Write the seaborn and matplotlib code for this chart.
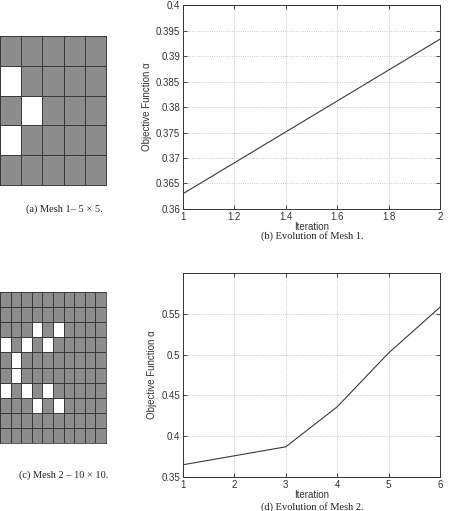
import matplotlib
matplotlib.use("Agg")
import matplotlib.pyplot as plt
import seaborn as sns
import numpy as np
import pandas as pd
from matplotlib.colors import ListedColormap

# mesh 1 (5 x 5): 1 = material (gray), 0 = void (white)
mesh1 = [
    [1, 1, 1, 1, 1],
    [0, 1, 1, 1, 1],
    [1, 0, 1, 1, 1],
    [0, 1, 1, 1, 1],
    [1, 1, 1, 1, 1],
]
# mesh 2 (10 x 10)
mesh2 = [
    [1, 1, 1, 1, 1, 1, 1, 1, 1, 1],
    [1, 1, 1, 1, 1, 1, 1, 1, 1, 1],
    [1, 1, 1, 0, 1, 0, 1, 1, 1, 1],
    [0, 1, 0, 1, 0, 1, 1, 1, 1, 1],
    [1, 0, 1, 1, 1, 1, 1, 1, 1, 1],
    [1, 0, 1, 1, 1, 1, 1, 1, 1, 1],
    [0, 1, 0, 1, 0, 1, 1, 1, 1, 1],
    [1, 1, 1, 0, 1, 0, 1, 1, 1, 1],
    [1, 1, 1, 1, 1, 1, 1, 1, 1, 1],
    [1, 1, 1, 1, 1, 1, 1, 1, 1, 1],
]

iter1 = [1, 2]
alpha1 = [0.363, 0.3933]
iter2 = [1, 2, 3, 4, 5, 6]
alpha2 = [0.365, 0.376, 0.387, 0.436, 0.502, 0.558]

W, H = 450, 511
fig = plt.figure(figsize=(W / 100, H / 100), dpi=100)
fig.patch.set_facecolor("white")


def px_axes(x0, y0, x1, y1):
    return fig.add_axes([x0 / W, 1 - y1 / H, (x1 - x0) / W, (y1 - y0) / H])


cmap = ListedColormap(["white", "#8d8d8d"])
serif = ["Liberation Serif", "DejaVu Serif"]
sans = ["Liberation Sans", "DejaVu Sans"]


def draw_mesh(ax, grid, lw):
    sns.heatmap(np.array(grid), ax=ax, cmap=cmap, vmin=0, vmax=1, cbar=False,
                linewidths=lw, linecolor="#3a3a3a", xticklabels=False, yticklabels=False)
    for s in ax.spines.values():
        s.set_visible(True)
        s.set_color("#3a3a3a")
        s.set_linewidth(lw)


def draw_curve(ax, x, y, xlim, ylim, xticks, yticks, xlabels, ylabels):
    df = pd.DataFrame({"Iteration": x, "alpha": y})
    sns.lineplot(data=df, x="Iteration", y="alpha", ax=ax, color="#3a3a3a", linewidth=0.8)
    ax.set_xlim(xlim)
    ax.set_ylim(ylim)
    ax.set_xticks(xticks)
    ax.set_yticks(yticks)
    ax.set_xticklabels(xlabels, fontsize=7, family=sans, color="#333333")
    ax.set_yticklabels(ylabels, fontsize=7, family=sans, color="#333333")
    ax.grid(True, linestyle=":", color="#b8b8b8", linewidth=0.6)
    ax.tick_params(direction="in", length=3, width=0.5, pad=2, top=True, right=True)
    for s in ax.spines.values():
        s.set_color("#333333")
        s.set_linewidth(0.7)
    ax.set_xlabel("Iteration", fontsize=7, family=sans, color="#333333", labelpad=0)
    ax.set_ylabel("Objective Function \u03b1", fontsize=7, family=sans, color="#333333", labelpad=3)


ax_m1 = px_axes(0, 36, 106, 185)
draw_mesh(ax_m1, mesh1, 0.7)
ax_m2 = px_axes(0, 292, 106, 443)
draw_mesh(ax_m2, mesh2, 0.6)

ax1 = px_axes(183, 5, 440, 209)
draw_curve(ax1, iter1, alpha1, (1, 2), (0.36, 0.4),
           [1, 1.2, 1.4, 1.6, 1.8, 2],
           [0.36, 0.365, 0.37, 0.375, 0.38, 0.385, 0.39, 0.395, 0.4],
           ["1", "1.2", "1.4", "1.6", "1.8", "2"],
           ["0.36", "0.365", "0.37", "0.375", "0.38", "0.385", "0.39", "0.395", "0.4"])

ax2 = px_axes(183, 273, 440, 477)
draw_curve(ax2, iter2, alpha2, (1, 6), (0.35, 0.6),
           [1, 2, 3, 4, 5, 6],
           [0.35, 0.4, 0.45, 0.5, 0.55],
           ["1", "2", "3", "4", "5", "6"],
           ["0.35", "0.4", "0.45", "0.5", "0.55"])

cap = dict(fontsize=7.5, family=serif, color="#222222", ha="center", va="center")
fig.text(64 / W, 1 - 209 / H, "(a) Mesh 1\u2013 5 \u00d7 5.", **cap)
fig.text(312 / W, 1 - 236 / H, "(b) Evolution of Mesh 1.", **cap)
fig.text(64 / W, 1 - 475 / H, "(c) Mesh 2 \u2013 10 \u00d7 10.", **cap)
fig.text(312 / W, 1 - 507 / H, "(d) Evolution of Mesh 2.", **cap)

fig.savefig("out.png", dpi=100)
